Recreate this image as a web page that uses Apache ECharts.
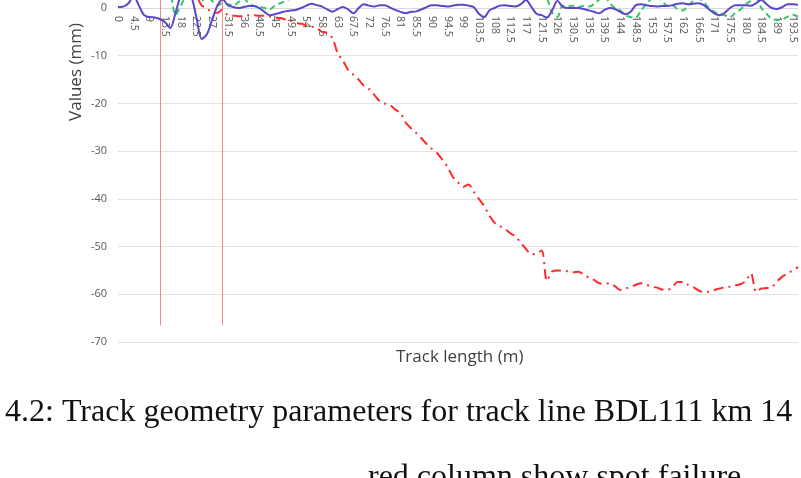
<!DOCTYPE html>
<html>
<head>
<meta charset="utf-8">
<script src="https://cdn.jsdelivr.net/npm/echarts@6/dist/echarts.min.js"></script>
<style>
html,body{margin:0;padding:0;background:#fff;}
#chart{width:801px;height:478px;}
</style>
</head>
<body>
<div id="chart"></div>
<script>
// Track length categories (m), every 1.5 m
const categories = [];
for (let i = 0; i <= 130; i++) categories.push(String(+(i * 1.5).toFixed(1)));

// Purple solid series (mm)
const purpleValues = [
 0.2,0.3,1.0,2.5,0.5,-1.5,-1.9,-2.0,-2.3,-3.0,
 -4.2,-1.0,2.5,3.5,2.5,-2.0,-6.5,-5.5,-2.5,0.5,
 1.8,0.6,0.2,0.0,0.2,0.4,0.4,0.0,-0.8,-1.5,
 -1.3,-1.0,-0.7,-0.5,-0.4,0.0,0.5,0.9,0.6,0.3,
 -0.3,-0.8,-0.2,0.2,-0.3,-1.1,0.0,0.8,0.5,0.3,
 0.6,0.6,0.1,-0.4,-0.8,-1.1,-0.8,-0.7,-0.3,0.2,
 0.6,0.6,0.4,0.3,0.5,0.7,0.7,0.5,0.2,-1.2,
 -1.9,-0.5,0.0,0.5,0.6,0.4,0.3,0.8,1.7,0.3,
 -1.2,-1.5,-2.0,-0.5,1.5,0.3,0.0,0.0,0.0,-0.2,
 -0.5,-0.8,-1.1,-0.4,0.0,-0.2,-0.8,-1.3,-0.8,0.6,
 0.8,0.6,0.4,0.3,0.4,0.4,0.6,0.9,1.0,0.8,
 0.9,1.0,0.6,-0.3,-1.1,-1.5,-1.0,0.0,0.6,0.6,
 0.6,0.5,1.0,1.7,0.8,0.0,-0.2,0.2,0.8,0.8,
 0.7
];

// Green dashed series (mm)
const greenValues = [
 3.0,3.5,4.0,4.0,3.5,3.0,3.0,3.5,4.0,3.5,
 3.0,-1.5,0.5,2.5,3.0,2.5,1.5,2.5,1.5,0.5,
 1.0,0.8,0.5,1.2,2.0,1.0,0.4,0.3,0.0,-0.3,
 0.5,1.0,1.5,2.0,2.5,3.0,3.5,4.0,4.5,4.0,
 3.5,3.0,3.5,4.0,4.5,5.0,4.5,4.0,3.5,3.0,
 2.5,1.8,2.5,3.0,3.5,4.0,4.5,4.0,3.5,3.0,
 3.5,4.0,4.5,5.0,4.5,4.0,3.5,3.0,3.5,4.0,
 4.5,4.0,3.5,3.0,3.5,4.0,3.5,3.0,3.0,2.5,
 2.0,3.0,2.0,-1.0,-1.9,0.5,0.3,0.5,0.2,0.4,
 0.3,0.8,1.8,2.5,1.0,0.0,-0.5,-1.5,-1.9,-2.0,
 -0.5,0.8,2.0,2.5,1.5,0.5,0.6,-0.3,-0.5,0.5,
 1.5,2.0,1.2,0.0,-0.8,-1.2,-1.5,-1.9,-1.0,-0.3,
 0.8,1.5,2.0,0.0,-1.2,-2.3,-2.5,-2.4,-1.8,-1.4,
 -1.8
];

// Red dash-dot series (mm)
const redValues = [
 4.0,4.5,5.0,5.0,4.5,4.0,4.0,4.5,5.0,4.5,
 4.0,4.0,3.5,3.5,3.0,2.5,0.5,0.0,-1.0,-1.0,
 -0.3,-1.5,-1.6,-1.7,-1.7,-1.5,-1.5,-1.6,-1.6,-1.8,
 -2.0,-2.1,-2.4,-2.6,-3.1,-3.3,-3.6,-3.9,-4.2,-5.0,
 -5.2,-6.3,-9.5,-11.0,-13.0,-14.0,-15.0,-16.3,-17.0,-18.2,
 -19.5,-20.0,-20.3,-21.3,-22.0,-24.0,-25.2,-26.2,-27.3,-28.5,
 -29.5,-30.4,-31.8,-33.3,-35.4,-36.5,-37.5,-37.0,-38.5,-40.0,
 -41.5,-43.5,-45.0,-45.7,-46.3,-47.2,-47.9,-49.2,-50.5,-51.6,
 -51.5,-50.8,-57.2,-55.2,-55.0,-55.0,-55.2,-55.4,-55.3,-55.8,
 -56.5,-57.0,-57.7,-57.8,-57.7,-58.3,-59.1,-58.8,-58.5,-58.0,
 -57.7,-58.0,-58.4,-58.6,-59.0,-59.1,-58.5,-57.4,-57.4,-58.0,
 -58.5,-59.2,-59.5,-59.4,-59.1,-58.8,-58.5,-58.4,-58.1,-57.9,
 -57.2,-55.6,-59.5,-58.8,-58.7,-58.5,-57.3,-56.3,-55.6,-55.0,
 -54.3
];

// Visible value range (top is cropped just above 0)
const yMin = -70, yMax = 1.68, yInterval = 10;

// Spot failure columns (track length, m) and their extent (mm)
const spotFailures = ['12', '30'];
const spotTop = yMax;
const spotBottom = -66.5;

const chart = echarts.init(document.getElementById('chart'), null, { renderer: 'canvas' });
const axisFont = '"Open Sans", "DejaVu Sans", sans-serif';

chart.setOption({
  animation: false,
  backgroundColor: '#ffffff',
  grid: { left: 118, right: 3, top: 0, bottom: 136 },
  xAxis: {
    type: 'category',
    data: categories,
    position: 'top',
    offset: -8,
    boundaryGap: false,
    axisLine: { onZero: false, lineStyle: { color: '#d9d9d9', width: 1 } },
    axisTick: { show: false },
    axisLabel: {
      interval: 2, rotate: 90, margin: 8, inside: true,
      color: '#595959', fontSize: 10.5, fontFamily: axisFont
    },
    splitLine: { show: false }
  },
  yAxis: {
    type: 'value',
    min: yMin, max: yMax, interval: yInterval,
    axisLine: { show: false },
    axisTick: { show: false },
    axisLabel: {
      margin: 11, color: '#595959', fontSize: 11, fontFamily: axisFont,
      showMaxLabel: false,
      formatter: v => (v > 0 ? '' : String(v))
    },
    splitLine: { showMaxLine: false, lineStyle: { color: '#e3e3e3', width: 1 } }
  },
  graphic: [
    { type: 'text', left: 396, top: 349,
      style: { text: 'Track length (m)', fill: '#404040', font: '17px "Open Sans", sans-serif' } },
    { type: 'text', x: 68, y: 72, rotation: Math.PI / 2,
      style: { text: 'Values (mm)', fill: '#404040', font: '17px "Open Sans", sans-serif',
               align: 'center', verticalAlign: 'top' } },
    { type: 'text', x: 5, y: 397,
      style: { text: '4.2: Track geometry parameters for track line BDL111 km 14',
               fill: '#111', font: '32px "Liberation Serif", "DejaVu Serif", serif' } },
    { type: 'text', x: 368, y: 462,
      style: { text: 'red column show spot failure',
               fill: '#111', font: '32px "Liberation Serif", "DejaVu Serif", serif' } }
  ],
  series: [
    {
      name: 'Red', type: 'line', data: redValues, smooth: 0.3, showSymbol: false,
      lineStyle: { color: '#ff2b2b', width: 2, type: [10, 5, 2, 5] },
      z: 3,
      markLine: {
        silent: true, symbol: ['none', 'none'], label: { show: false },
        lineStyle: { color: '#f58a8a', width: 1, type: 'solid' },
        data: spotFailures.map(c => [{ coord: [c, spotTop] }, { coord: [c, spotBottom] }])
      }
    },
    {
      name: 'Green', type: 'line', data: greenValues, smooth: 0.3, showSymbol: false,
      lineStyle: { color: '#3cc46a', width: 2, type: [6, 4] }, z: 4
    },
    {
      name: 'Purple', type: 'line', data: purpleValues, smooth: 0.3, showSymbol: false,
      lineStyle: { color: '#5a48c8', width: 2, type: 'solid' }, z: 5
    }
  ]
});
</script>
</body>
</html>
